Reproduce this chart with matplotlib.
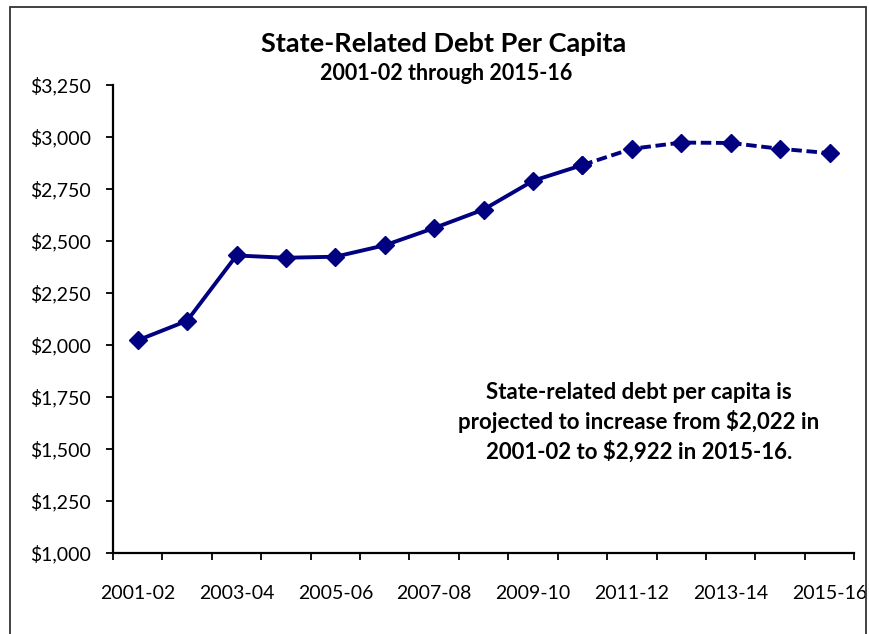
import matplotlib
matplotlib.use("Agg")
import matplotlib.pyplot as plt
from matplotlib.patches import Rectangle
from matplotlib.ticker import FuncFormatter

plt.rcParams['font.family'] = ['Lato', 'DejaVu Sans']

years = ["2001-02", "2002-03", "2003-04", "2004-05", "2005-06", "2006-07",
         "2007-08", "2008-09", "2009-10", "2010-11", "2011-12", "2012-13",
         "2013-14", "2014-15", "2015-16"]
debt_per_capita = [2022, 2116, 2430, 2419, 2424, 2479, 2562, 2651, 2789,
                   2865, 2943, 2973, 2971, 2943, 2922]
last_actual = 9  # 2010-11; later years are projections

navy = "#000080"

fig = plt.figure(figsize=(8.69, 6.34), dpi=100)
ax = fig.add_axes([0.130, 0.128, 0.853, 0.738])

x = list(range(len(years)))
ax.plot(x[:last_actual + 1], debt_per_capita[:last_actual + 1], color=navy,
        lw=2.8, marker='D', ms=9.5, solid_joinstyle='round')
ax.plot(x[last_actual:], debt_per_capita[last_actual:], color=navy,
        lw=2.8, ls=(0, (2.7, 1.2)), marker='D', ms=9.5)

ax.set_xlim(-0.5, len(years) - 0.5)
ax.set_ylim(1000, 3250)
ax.set_yticks(range(1000, 3251, 250))
ax.yaxis.set_major_formatter(FuncFormatter(lambda v, p: f"${v:,.0f}"))

# boundary ticks between categories, labels on every other year
ax.set_xticks([i - 0.5 for i in range(len(years) + 1)])
ax.set_xticklabels([])
ax.set_xticks(x[::2], minor=True)
ax.set_xticklabels(years[::2], minor=True)
ax.tick_params(axis='x', which='major', length=5, width=1.3, direction='out')
ax.tick_params(axis='x', which='minor', length=0, pad=23, labelsize=14)
ax.tick_params(axis='y', length=5, width=1.3, direction='out', pad=11, labelsize=14)

for side in ('top', 'right'):
    ax.spines[side].set_visible(False)
for side in ('left', 'bottom'):
    ax.spines[side].set_linewidth(1.6)

fig.text(0.511, 0.930, "State-Related Debt Per Capita", ha='center', va='center',
         fontsize=19.5, fontweight='bold')
fig.text(0.514, 0.884, "2001-02 through 2015-16", ha='center', va='center',
         fontsize=15.5, fontweight='bold')

fig.text(0.735, 0.334,
         "State-related debt per capita is\nprojected to increase from $2,022 in\n"
         "2001-02 to $2,922 in 2015-16.",
         ha='center', va='center', fontsize=16, fontweight='bold', linespacing=1.38)

fig.patches.append(Rectangle((10 / 869, -0.05), 856 / 869, 1.05 - 7 / 634,
                             transform=fig.transFigure, fill=False,
                             edgecolor='#333333', lw=1.3))

fig.savefig("out.png", dpi=100)
